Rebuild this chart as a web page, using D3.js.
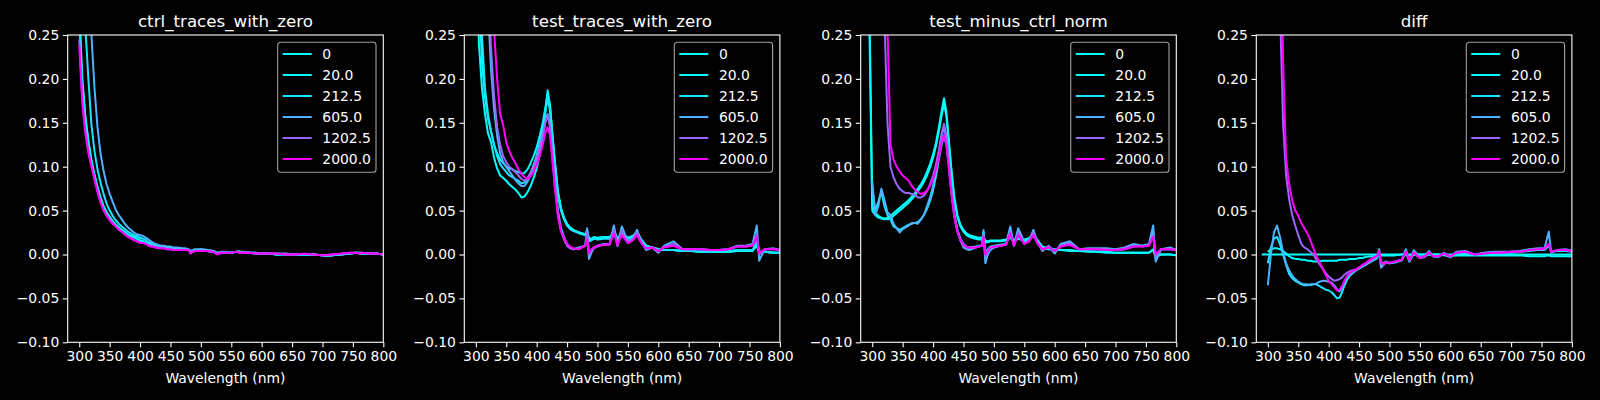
<!DOCTYPE html>
<html>
<head>
<meta charset="utf-8">
<script src="https://cdn.jsdelivr.net/npm/d3@7"></script>
<style>
  body { margin: 0; background: #000; }
  text { font-family: "DejaVu Sans", sans-serif; fill: #fff; }
</style>
</head>
<body>
<svg id="chart" width="1600" height="400"></svg>
<script>
// wavelength grid (nm), shared by every trace
const wavelengths = [
  290, 300, 305, 310, 315, 320, 325, 330, 335, 340,
  345, 350, 355, 360, 365, 370, 375, 380, 385, 390,
  395, 400, 405, 410, 414, 418, 422, 426, 430, 435,
  440, 445, 450, 455, 460, 470, 475, 480, 483, 486,
  490, 494, 500, 510, 520, 527, 533, 540, 550, 558,
  565, 572, 580, 590, 600, 610, 625, 640, 655, 670,
  685, 700, 715, 730, 745, 755, 762, 766, 775, 790, 800
];

const seriesLabels = ["0", "20.0", "212.5", "605.0", "1202.5", "2000.0"];
const seriesColors = ["#00ffff", "#03fcff", "#1be4ff", "#4db2ff", "#9966ff", "#ff00ff"];
const panelTitles = ["ctrl_traces_with_zero", "test_traces_with_zero", "test_minus_ctrl_norm", "diff"];
const xTicks = [300, 350, 400, 450, 500, 550, 600, 650, 700, 750, 800];
const yTicks = [-0.10, -0.05, 0.00, 0.05, 0.10, 0.15, 0.20, 0.25];

// ---- ctrl_traces_with_zero
const ctrl0 = [
  null, 0.27, 0.195, 0.155, 0.128, 0.106, 0.090, 0.076, 0.064, 0.054,
  0.047, 0.042, 0.038, 0.034, 0.031, 0.028, 0.025, 0.023, 0.021, 0.020,
  0.018, 0.016, 0.015, 0.013, 0.012, 0.011, 0.010, 0.009, 0.009, 0.008,
  0.008, 0.007, 0.007, 0.006, 0.006, 0.005, 0.005, 0.005, 0.002, 0.003,
  0.004, 0.005, 0.005, 0.004, 0.003, 0.001, 0.002, 0.002, 0.002, 0.003,
  0.003, 0.002, 0.002, 0.001, 0.001, 0.001, 0.000, 0.000, 0.000, 0.000,
  0.000, -0.001, -0.001, 0.000, 0.001, 0.002, 0.001, 0.001, 0.001, 0.001, 0.000
];
const ctrl20 = [
  null, 0.28, 0.20, 0.158, 0.130, 0.108, 0.091, 0.077, 0.065, 0.055,
  0.048, 0.043, 0.038, 0.034, 0.031, 0.028, 0.026, 0.023, 0.021, 0.020,
  0.018, 0.016, 0.015, 0.013, 0.012, 0.011, 0.010, 0.009, 0.009, 0.008,
  0.008, 0.007, 0.007, 0.006, 0.006, 0.005, 0.005, 0.005, 0.002, 0.003,
  0.004, 0.005, 0.005, 0.004, 0.003, 0.001, 0.002, 0.002, 0.002, 0.003,
  0.003, 0.002, 0.002, 0.001, 0.001, 0.001, 0.000, 0.000, 0.000, 0.000,
  0.000, -0.001, -0.001, 0.000, 0.001, 0.002, 0.001, 0.001, 0.001, 0.001, 0.000
];
const ctrl212 = [
  null, 0.45, 0.33, 0.26, 0.20, 0.148, 0.118, 0.097, 0.082, 0.069,
  0.058, 0.050, 0.044, 0.039, 0.035, 0.032, 0.029, 0.026, 0.024, 0.022,
  0.021, 0.019, 0.018, 0.016, 0.014, 0.013, 0.012, 0.011, 0.010, 0.009,
  0.009, 0.008, 0.008, 0.007, 0.007, 0.006, 0.006, 0.005, 0.003, 0.004,
  0.005, 0.005, 0.006, 0.005, 0.004, 0.002, 0.002, 0.003, 0.002, 0.003,
  0.003, 0.002, 0.002, 0.002, 0.001, 0.001, 0.000, 0.001, 0.000, 0.000,
  0.000, -0.001, -0.001, 0.000, 0.001, 0.002, 0.002, 0.001, 0.001, 0.001, 0.000
];
const ctrl605 = [
  null, 0.60, 0.48, 0.38, 0.30, 0.25, 0.19, 0.145, 0.115, 0.095,
  0.080, 0.069, 0.060, 0.051, 0.045, 0.040, 0.035, 0.031, 0.028, 0.025,
  0.023, 0.022, 0.021, 0.019, 0.017, 0.015, 0.013, 0.012, 0.011, 0.010,
  0.010, 0.009, 0.009, 0.008, 0.008, 0.007, 0.007, 0.006, 0.004, 0.005,
  0.006, 0.006, 0.006, 0.005, 0.004, 0.002, 0.003, 0.003, 0.002, 0.003,
  0.003, 0.003, 0.002, 0.002, 0.001, 0.001, 0.001, 0.001, 0.000, 0.000,
  0.000, -0.001, -0.001, 0.000, 0.001, 0.002, 0.002, 0.002, 0.001, 0.001, 0.000
];
const ctrl1202 = [
  null, 0.245, 0.178, 0.142, 0.118, 0.102, 0.087, 0.073, 0.060, 0.051,
  0.045, 0.040, 0.036, 0.032, 0.029, 0.026, 0.023, 0.021, 0.019, 0.017,
  0.015, 0.014, 0.013, 0.012, 0.011, 0.010, 0.009, 0.008, 0.008, 0.007,
  0.007, 0.006, 0.006, 0.005, 0.005, 0.005, 0.005, 0.005, 0.002, 0.003,
  0.004, 0.004, 0.004, 0.004, 0.003, 0.001, 0.002, 0.002, 0.002, 0.003,
  0.002, 0.002, 0.002, 0.001, 0.001, 0.001, 0.001, 0.000, 0.000, 0.001,
  0.000, -0.001, 0.000, 0.001, 0.002, 0.002, 0.001, 0.002, 0.001, 0.001, 0.000
];
const ctrl2000 = [
  null, 0.238, 0.172, 0.138, 0.116, 0.100, 0.085, 0.071, 0.059, 0.050,
  0.044, 0.039, 0.035, 0.032, 0.028, 0.026, 0.023, 0.020, 0.018, 0.016,
  0.015, 0.013, 0.013, 0.012, 0.010, 0.009, 0.009, 0.008, 0.007, 0.007,
  0.007, 0.006, 0.006, 0.005, 0.005, 0.005, 0.005, 0.005, 0.001, 0.003,
  0.004, 0.004, 0.004, 0.004, 0.003, 0.000, 0.002, 0.002, 0.002, 0.003,
  0.002, 0.002, 0.002, 0.001, 0.001, 0.001, 0.001, 0.000, 0.000, 0.001,
  0.000, -0.001, 0.000, 0.001, 0.002, 0.002, 0.001, 0.002, 0.001, 0.001, 0.000
];

// ---- test_traces_with_zero
const test0 = [
  null, 0.40, 0.24, 0.19, 0.16, 0.138, 0.128, 0.110, 0.098, 0.090,
  0.087, 0.084, 0.080, 0.077, 0.074, 0.070, 0.065, 0.066, 0.071, 0.078,
  0.087, 0.098, 0.113, 0.135, 0.160, 0.187, 0.170, 0.135, 0.105, 0.070,
  0.052, 0.041, 0.034, 0.030, 0.028, 0.025, 0.024, 0.023, 0.025, 0.018,
  0.017, 0.019, 0.018, 0.019, 0.019, 0.021, 0.018, 0.021, 0.019, 0.021,
  0.024, 0.017, 0.010, 0.008, 0.006, 0.005, 0.005, 0.004, 0.004, 0.003,
  0.003, 0.003, 0.003, 0.004, 0.004, 0.004, 0.010, 0.003, 0.003, 0.002, 0.002
];
const test20 = [
  null, 0.45, 0.30, 0.22, 0.18, 0.155, 0.14, 0.125, 0.115, 0.108,
  0.104, 0.100, 0.098, 0.097, 0.095, 0.094, 0.092, 0.093, 0.097, 0.104,
  0.112, 0.122, 0.135, 0.150, 0.166, 0.183, 0.168, 0.136, 0.106, 0.072,
  0.053, 0.042, 0.035, 0.031, 0.028, 0.025, 0.024, 0.023, 0.026, 0.019,
  0.018, 0.020, 0.019, 0.020, 0.020, 0.022, 0.019, 0.022, 0.019, 0.021,
  0.025, 0.017, 0.010, 0.008, 0.006, 0.005, 0.005, 0.004, 0.004, 0.003,
  0.003, 0.003, 0.003, 0.004, 0.004, 0.004, 0.011, 0.003, 0.003, 0.002, 0.002
];
const test212 = [
  null, 0.55, 0.36, 0.25, 0.19, 0.16, 0.14, 0.125, 0.112, 0.103,
  0.098, 0.094, 0.090, 0.088, 0.086, 0.084, 0.081, 0.082, 0.086, 0.093,
  0.102, 0.113, 0.127, 0.145, 0.162, 0.178, 0.163, 0.132, 0.102, 0.068,
  0.050, 0.040, 0.033, 0.029, 0.027, 0.024, 0.023, 0.022, 0.028, 0.015,
  0.016, 0.018, 0.017, 0.018, 0.018, 0.028, 0.017, 0.027, 0.018, 0.020,
  0.026, 0.016, 0.009, 0.008, 0.006, 0.005, 0.005, 0.004, 0.004, 0.003,
  0.003, 0.003, 0.004, 0.005, 0.005, 0.005, 0.015, 0.002, 0.003, 0.002, 0.002
];
const test605 = [
  null, 0.9, 0.6, 0.45, 0.34, 0.28, 0.21, 0.165, 0.135, 0.115,
  0.105, 0.100, 0.095, 0.090, 0.085, 0.081, 0.078, 0.078, 0.083, 0.090,
  0.098, 0.108, 0.120, 0.135, 0.150, 0.160, 0.148, 0.115, 0.085, 0.050,
  0.030, 0.020, 0.012, 0.008, 0.006, 0.008, 0.009, 0.010, 0.030, -0.005,
  0.002, 0.008, 0.010, 0.012, 0.012, 0.033, 0.010, 0.032, 0.015, 0.018,
  0.028, 0.015, 0.005, 0.008, 0.002, 0.010, 0.015, 0.006, 0.006, 0.006,
  0.005, 0.005, 0.006, 0.010, 0.010, 0.012, 0.033, -0.007, 0.006, 0.007, 0.005
];
const test1202 = [
  null, 1.0, 0.7, 0.5, 0.38, 0.31, 0.235, 0.18, 0.145, 0.125,
  0.112, 0.105, 0.100, 0.097, 0.094, 0.090, 0.086, 0.084, 0.087, 0.093,
  0.100, 0.110, 0.122, 0.136, 0.150, 0.158, 0.145, 0.112, 0.080, 0.046,
  0.027, 0.017, 0.010, 0.007, 0.006, 0.007, 0.008, 0.010, 0.025, 0.000,
  0.004, 0.007, 0.009, 0.011, 0.011, 0.028, 0.010, 0.027, 0.013, 0.017,
  0.025, 0.014, 0.006, 0.008, 0.003, 0.009, 0.012, 0.006, 0.006, 0.006,
  0.005, 0.005, 0.006, 0.009, 0.009, 0.011, 0.022, 0.000, 0.006, 0.006, 0.005
];
const test2000 = [
  null, 1.1, 0.8, 0.6, 0.45, 0.36, 0.30, 0.255, 0.20, 0.160,
  0.147, 0.128, 0.118, 0.110, 0.104, 0.097, 0.092, 0.088, 0.086, 0.089,
  0.094, 0.102, 0.112, 0.125, 0.138, 0.145, 0.135, 0.105, 0.075, 0.043,
  0.026, 0.019, 0.012, 0.009, 0.007, 0.006, 0.008, 0.010, 0.018, 0.002,
  0.006, 0.008, 0.010, 0.011, 0.012, 0.024, 0.011, 0.022, 0.013, 0.016,
  0.022, 0.013, 0.007, 0.008, 0.004, 0.008, 0.010, 0.006, 0.006, 0.006,
  0.005, 0.005, 0.006, 0.009, 0.009, 0.010, 0.020, 0.002, 0.006, 0.006, 0.005
];

// ---- test_minus_ctrl_norm
const tmc0 = [
  0.50, 0.050, 0.045, 0.042, 0.041, 0.040, 0.042, 0.044, 0.047, 0.050,
  0.053, 0.056, 0.059, 0.062, 0.066, 0.070, 0.075, 0.080, 0.086, 0.094,
  0.103, 0.114, 0.128, 0.147, 0.163, 0.178, 0.162, 0.130, 0.098, 0.065,
  0.045, 0.034, 0.028, 0.024, 0.022, 0.020, 0.019, 0.019, 0.020, 0.016,
  0.015, 0.016, 0.016, 0.016, 0.017, 0.020, 0.016, 0.019, 0.017, 0.019,
  0.022, 0.016, 0.009, 0.007, 0.006, 0.005, 0.005, 0.004, 0.004, 0.003,
  0.003, 0.002, 0.002, 0.002, 0.002, 0.002, 0.006, -0.002, 0.000, 0.000, -0.001
];
const tmc20 = [
  0.55, 0.055, 0.048, 0.044, 0.042, 0.041, 0.040, 0.041, 0.044, 0.047,
  0.050, 0.053, 0.056, 0.059, 0.063, 0.067, 0.072, 0.077, 0.083, 0.090,
  0.099, 0.110, 0.124, 0.142, 0.158, 0.172, 0.157, 0.126, 0.095, 0.063,
  0.043, 0.032, 0.026, 0.022, 0.020, 0.018, 0.017, 0.017, 0.019, 0.014,
  0.014, 0.015, 0.015, 0.015, 0.016, 0.019, 0.015, 0.018, 0.016, 0.018,
  0.021, 0.015, 0.008, 0.006, 0.005, 0.005, 0.004, 0.004, 0.003, 0.003,
  0.002, 0.002, 0.002, 0.002, 0.002, 0.002, 0.005, -0.003, 0.000, 0.000, -0.001
];
const tmc212 = [
  null, 0.075, 0.050, 0.060, 0.072, 0.055, 0.045, 0.040, 0.032, 0.030,
  0.028, 0.030, 0.032, 0.034, 0.035, 0.036, 0.037, 0.040, 0.045, 0.052,
  0.061, 0.073, 0.090, 0.110, 0.125, 0.135, 0.125, 0.100, 0.072, 0.045,
  0.028, 0.018, 0.012, 0.009, 0.008, 0.009, 0.010, 0.010, 0.025, 0.002,
  0.006, 0.009, 0.010, 0.011, 0.012, 0.028, 0.011, 0.026, 0.013, 0.016,
  0.024, 0.013, 0.006, 0.009, 0.004, 0.010, 0.014, 0.006, 0.006, 0.006,
  0.005, 0.005, 0.006, 0.009, 0.010, 0.011, 0.025, -0.004, 0.006, 0.006, 0.005
];
const tmc605 = [
  null, 0.083, 0.045, 0.055, 0.075, 0.062, 0.048, 0.045, 0.035, 0.030,
  0.025, 0.029, 0.031, 0.033, 0.036, 0.036, 0.035, 0.040, 0.045, 0.055,
  0.065, 0.078, 0.095, 0.118, 0.135, 0.145, 0.132, 0.105, 0.075, 0.045,
  0.027, 0.016, 0.008, 0.006, 0.005, 0.008, 0.009, 0.010, 0.028, -0.010,
  0.000, 0.005, 0.008, 0.010, 0.012, 0.032, 0.010, 0.030, 0.014, 0.016,
  0.028, 0.013, 0.004, 0.010, 0.001, 0.012, 0.015, 0.006, 0.007, 0.007,
  0.007, 0.006, 0.008, 0.012, 0.010, 0.012, 0.033, -0.008, 0.006, 0.008, 0.005
];
const tmc1202 = [
  null, 1.5, 0.9, 0.6, 0.40, 0.27, 0.15, 0.100, 0.088, 0.080,
  0.075, 0.072, 0.070, 0.070, 0.069, 0.068, 0.065, 0.065, 0.067, 0.072,
  0.080, 0.090, 0.103, 0.120, 0.137, 0.149, 0.135, 0.105, 0.075, 0.045,
  0.027, 0.016, 0.010, 0.008, 0.007, 0.008, 0.009, 0.010, 0.022, -0.002,
  0.003, 0.007, 0.008, 0.010, 0.011, 0.026, 0.010, 0.025, 0.012, 0.016,
  0.025, 0.013, 0.006, 0.009, 0.004, 0.010, 0.013, 0.006, 0.006, 0.006,
  0.006, 0.005, 0.007, 0.010, 0.009, 0.011, 0.022, -0.002, 0.006, 0.006, 0.005
];
const tmc2000 = [
  null, 2.0, 1.2, 0.8, 0.55, 0.40, 0.26, 0.125, 0.108, 0.100,
  0.095, 0.090, 0.087, 0.084, 0.078, 0.074, 0.071, 0.069, 0.070, 0.073,
  0.078, 0.086, 0.097, 0.112, 0.127, 0.136, 0.125, 0.098, 0.070, 0.042,
  0.026, 0.017, 0.011, 0.009, 0.008, 0.008, 0.009, 0.010, 0.020, 0.000,
  0.004, 0.008, 0.009, 0.010, 0.011, 0.024, 0.010, 0.022, 0.012, 0.015,
  0.022, 0.012, 0.006, 0.008, 0.004, 0.009, 0.011, 0.006, 0.006, 0.006,
  0.005, 0.005, 0.006, 0.009, 0.009, 0.010, 0.020, 0.001, 0.006, 0.006, 0.005
];

// ---- diff
const diff0 = [
  0, 0, 0, 0, 0, 0, 0, 0, 0, 0,
  0, 0, 0, 0, 0, 0, 0, 0, 0, 0,
  0, 0, 0, 0, 0, 0, 0, 0, 0, 0,
  0, 0, 0, 0, 0, 0, 0, 0, 0, 0,
  0, 0, 0, 0, 0, 0, 0, 0, 0, 0,
  0, 0, 0, 0, 0, 0, 0, 0, 0, 0,
  0, 0, 0, 0, 0, 0, 0, 0, 0, 0, 0
];
const diff20 = [
  null, 0.003, 0.006, 0.007, 0.007, 0.006, 0.004, 0.001, -0.002, -0.004,
  -0.005, -0.005, -0.006, -0.006, -0.007, -0.007, -0.008, -0.008, -0.008, -0.007,
  -0.007, -0.007, -0.007, -0.007, -0.007, -0.006, -0.006, -0.006, -0.006, -0.005,
  -0.005, -0.005, -0.004, -0.004, -0.003, -0.002, -0.002, -0.001, -0.001, -0.001,
  -0.001, -0.001, -0.001, -0.001, 0.000, 0.000, -0.001, 0.000, 0.000, 0.000,
  0.000, 0.000, 0.000, -0.001, -0.001, -0.001, -0.001, -0.001, -0.001, -0.001,
  -0.001, -0.001, -0.001, -0.002, -0.002, -0.002, -0.001, -0.002, -0.002, -0.002, -0.002
];
const diff212 = [
  null, -0.010, 0.008, 0.018, 0.020, 0.012, 0.000, -0.012, -0.022, -0.027,
  -0.030, -0.032, -0.034, -0.035, -0.035, -0.034, -0.034, -0.034, -0.036, -0.038,
  -0.040, -0.041, -0.043, -0.047, -0.050, -0.049, -0.043, -0.035, -0.029, -0.024,
  -0.021, -0.018, -0.016, -0.014, -0.012, -0.008, -0.006, -0.004, 0.002, -0.008,
  -0.010, -0.008, -0.010, -0.009, -0.007, 0.002, -0.008, 0.001, -0.004, -0.003,
  0.002, -0.002, -0.002, 0.000, -0.003, 0.001, 0.002, 0.000, 0.001, 0.002,
  0.002, 0.002, 0.003, 0.004, 0.005, 0.005, 0.010, 0.003, 0.004, 0.004, 0.003
];
const diff605 = [
  null, -0.035, 0.000, 0.025, 0.033, 0.020, 0.003, -0.010, -0.018, -0.024,
  -0.028, -0.031, -0.033, -0.034, -0.034, -0.035, -0.034, -0.033, -0.031, -0.030,
  -0.030, -0.031, -0.032, -0.036, -0.040, -0.042, -0.038, -0.031, -0.026, -0.022,
  -0.020, -0.018, -0.015, -0.013, -0.011, -0.007, -0.005, -0.003, 0.006, -0.015,
  -0.012, -0.009, -0.010, -0.008, -0.006, 0.006, -0.008, 0.005, -0.003, -0.002,
  0.004, -0.002, -0.003, 0.002, -0.003, 0.003, 0.004, 0.000, 0.002, 0.003,
  0.003, 0.003, 0.004, 0.006, 0.007, 0.007, 0.026, 0.002, 0.005, 0.006, 0.004
];
const diff1202 = [
  null, 2.5, 1.6, 1.0, 0.55, 0.28, 0.15, 0.090, 0.063, 0.045,
  0.033, 0.022, 0.012, 0.008, 0.006, 0.003, 0.000, -0.006, -0.011, -0.016,
  -0.021, -0.025, -0.028, -0.030, -0.029, -0.028, -0.026, -0.023, -0.021, -0.019,
  -0.018, -0.017, -0.015, -0.013, -0.011, -0.007, -0.004, -0.002, 0.004, -0.010,
  -0.012, -0.009, -0.010, -0.008, -0.006, 0.004, -0.007, 0.003, -0.004, -0.002,
  0.003, -0.002, -0.002, 0.001, -0.002, 0.002, 0.003, 0.000, 0.001, 0.002,
  0.002, 0.003, 0.003, 0.005, 0.006, 0.006, 0.012, 0.003, 0.005, 0.005, 0.004
];
const diff2000 = [
  null, 3.0, 2.0, 1.3, 0.8, 0.45, 0.22, 0.11, 0.080, 0.062,
  0.050, 0.044, 0.036, 0.030, 0.024, 0.016, 0.007, -0.002, -0.009, -0.016,
  -0.023, -0.030, -0.034, -0.038, -0.041, -0.040, -0.036, -0.030, -0.025, -0.021,
  -0.019, -0.017, -0.015, -0.012, -0.010, -0.005, -0.003, -0.001, 0.004, -0.008,
  -0.011, -0.009, -0.009, -0.008, -0.006, 0.003, -0.006, 0.002, -0.004, -0.002,
  0.002, -0.002, -0.002, 0.001, -0.002, 0.002, 0.003, 0.000, 0.001, 0.002,
  0.002, 0.003, 0.003, 0.005, 0.006, 0.007, 0.012, 0.003, 0.005, 0.005, 0.004
];

const panelSeries = [
  [ctrl0, ctrl20, ctrl212, ctrl605, ctrl1202, ctrl2000],
  [test0, test20, test212, test605, test1202, test2000],
  [tmc0, tmc20, tmc212, tmc605, tmc1202, tmc2000],
  [diff0, diff20, diff212, diff605, diff1202, diff2000]
];

// layout
const panelLefts = [67.7, 464.3, 860.7, 1256.3];
const plotW = 315.6, plotTop = 35, plotH = 307.3;

const svg = d3.select('#chart');
svg.append('rect').attr('width', 1600).attr('height', 400).attr('fill', '#000');

const fmt = v => d3.format('.2f')(v).replace('-', '\u2212');

panelSeries.forEach((seriesList, p) => {
  const left = panelLefts[p];
  const x = d3.scaleLinear().domain([281, 800]).range([0, plotW]);
  const y = d3.scaleLinear().domain([-0.10, 0.25]).range([plotH, 0]);

  const g = svg.append('g').attr('transform', `translate(${left},${plotTop})`);

  g.append('clipPath').attr('id', 'clip' + p)
    .append('rect').attr('width', plotW).attr('height', plotH);

  const line = d3.line()
    .defined(d => d[1] != null)
    .x(d => x(d[0]))
    .y(d => y(d[1]));

  const lines = g.append('g').attr('clip-path', `url(#clip${p})`);
  seriesList.forEach((vals, i) => {
    lines.append('path')
      .datum(wavelengths.map((w, k) => [w, vals[k]]))
      .attr('d', line)
      .attr('fill', 'none')
      .attr('stroke', seriesColors[i])
      .attr('stroke-width', 2)
      .attr('stroke-linejoin', 'round');
  });

  // axes
  const xAxis = g.append('g').attr('transform', `translate(0,${plotH})`)
    .call(d3.axisBottom(x).tickValues(xTicks).tickSize(4.9).tickPadding(3.5));
  const yAxis = g.append('g')
    .call(d3.axisLeft(y).tickValues(yTicks).tickSize(4.9).tickPadding(3.5).tickFormat(fmt));
  [xAxis, yAxis].forEach(a => {
    a.selectAll('.domain').remove();
    a.selectAll('line').attr('stroke', '#fff').attr('stroke-width', 1.1);
    a.selectAll('text').attr('fill', '#fff')
      .style('font-family', '"DejaVu Sans", sans-serif').style('font-size', '13.9px');
  });

  g.append('rect')
    .attr('width', plotW).attr('height', plotH)
    .attr('fill', 'none').attr('stroke', '#fff').attr('stroke-width', 1.1);

  g.append('text')
    .attr('x', plotW / 2).attr('y', -8)
    .attr('text-anchor', 'middle')
    .style('font-size', '16.7px')
    .text(panelTitles[p]);

  g.append('text')
    .attr('x', plotW / 2).attr('y', plotH + 40.5)
    .attr('text-anchor', 'middle')
    .style('font-size', '13.9px')
    .text('Wavelength (nm)');

  // legend
  const lg = g.append('g').attr('transform', `translate(${plotW - 7.3 - 98.3},7.3)`);
  lg.append('rect')
    .attr('width', 98.3).attr('height', 130)
    .attr('rx', 2.8)
    .attr('fill', '#000').attr('fill-opacity', 0.8)
    .attr('stroke', '#a0a0a0').attr('stroke-width', 1.1);
  seriesLabels.forEach((lab, i) => {
    const cy = 11.7 + i * 21;
    lg.append('line')
      .attr('x1', 5).attr('x2', 34).attr('y1', cy).attr('y2', cy)
      .attr('stroke', seriesColors[i]).attr('stroke-width', 2);
    lg.append('text')
      .attr('x', 44.6).attr('y', cy + 5)
      .style('font-size', '13.9px')
      .text(lab);
  });
});
</script>
</body>
</html>
